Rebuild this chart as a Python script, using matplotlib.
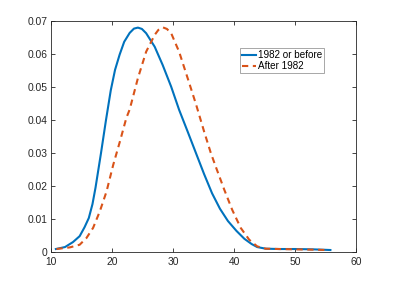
import matplotlib
matplotlib.use("Agg")
import matplotlib.pyplot as plt

plt.rcParams["font.family"] = ["Liberation Sans", "DejaVu Sans"]
plt.rcParams["font.size"] = 7.2

# density
x_before = [10.8, 12.3, 13.6, 14.7, 15.5, 16.2, 16.8, 17.3, 18.2, 19.0, 19.8,
            20.5, 21.25, 22.0, 22.9, 23.6, 24.25, 24.9, 25.6, 27.0, 28.3, 29.7,
            31.0, 32.4, 33.8, 35.1, 36.4, 37.7, 39.0, 40.4, 41.7, 42.9, 43.8,
            45.2, 47.4, 50.0, 53.0, 55.8]
y_before = [0.0009, 0.0015, 0.003, 0.0048, 0.0075, 0.0103, 0.0145, 0.0195,
            0.030, 0.0398, 0.049, 0.0552, 0.0598, 0.0637, 0.0664, 0.0677, 0.068,
            0.0676, 0.0663, 0.0622, 0.0567, 0.0501, 0.0431, 0.0365, 0.0298,
            0.0236, 0.0178, 0.0131, 0.0094, 0.0064, 0.004, 0.0024, 0.0015,
            0.001, 0.0009, 0.0009, 0.0008, 0.0006]

x_after = [10.9, 13.1, 14.7, 15.8, 16.9, 18.0, 19.1, 20.2, 21.3, 22.35, 22.9,
           24.25, 25.6, 27.0, 27.6, 28.3, 29.0, 29.7, 31.0, 32.4, 33.8, 35.1,
           36.2, 37.0, 38.4, 39.7, 41.1, 42.5, 43.8, 45.2, 47.5, 50.0, 53.0,
           55.3]
y_after = [0.0009, 0.0014, 0.0022, 0.0042, 0.0073, 0.0123, 0.0183, 0.0264,
           0.0335, 0.0406, 0.0432, 0.0527, 0.0607, 0.0658, 0.0673, 0.0681,
           0.0676, 0.0663, 0.0607, 0.0527, 0.0446, 0.0365, 0.030, 0.0259,
           0.0189, 0.0128, 0.0073, 0.0037, 0.0017, 0.001, 0.0009, 0.0008,
           0.0007, 0.0006]

labels = ["1982 or before", "After 1982"]

fig = plt.figure(figsize=(3.94, 2.84), dpi=100)
ax = fig.add_axes([0.1294, 0.1127, 0.7742, 0.8133])

ax.plot(x_before, y_before, color="#0072BD", lw=1.5, label=labels[0])
ax.plot(x_after, y_after, color="#D95319", lw=1.5, ls=(0, (3, 2.2)), label=labels[1])

ax.set_xlim(10, 60)
ax.set_ylim(0, 0.07)
ax.set_xticks([10, 20, 30, 40, 50, 60])
ax.set_yticks([0, 0.01, 0.02, 0.03, 0.04, 0.05, 0.06, 0.07])
ax.set_yticklabels(["0", "0.01", "0.02", "0.03", "0.04", "0.05", "0.06", "0.07"])
ax.tick_params(direction="in", top=True, right=True, length=3, width=0.6,
               colors="#262626", labelsize=7.4)
ax.tick_params(axis="x", pad=3.5)
ax.tick_params(axis="y", pad=2.5)
for s in ax.spines.values():
    s.set_color("#262626")
    s.set_linewidth(0.6)

leg = ax.legend(loc="upper left", bbox_to_anchor=(0.619, 0.885), fontsize=7.1,
                frameon=True, fancybox=False, handlelength=1.4, handletextpad=0.15,
                borderpad=0.25, labelspacing=0.1, borderaxespad=0)
leg.get_frame().set_edgecolor("#7f7f7f")
leg.get_frame().set_linewidth(0.6)

fig.savefig("out.png", dpi=100)
